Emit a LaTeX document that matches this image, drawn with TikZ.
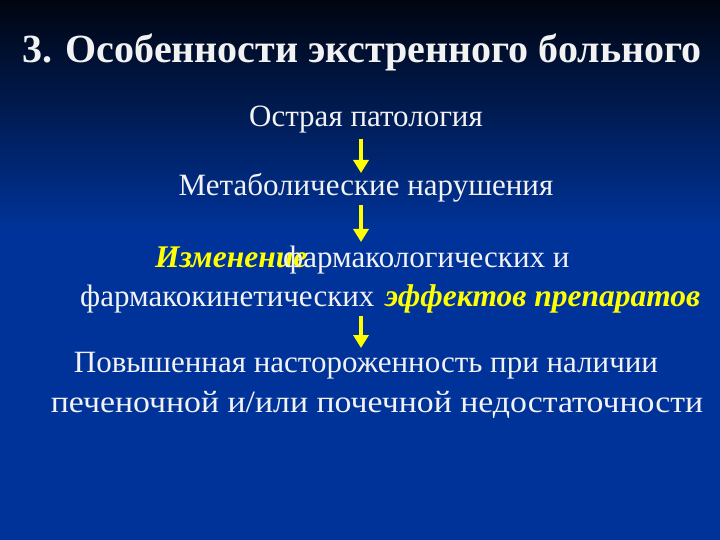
\documentclass[tikz,border=0pt]{standalone}
\usepackage{fontspec}
\setmainfont{Liberation Serif}
\usetikzlibrary{arrows.meta}
\definecolor{bgtop}{HTML}{000510}
\definecolor{bgbot}{HTML}{003399}
\definecolor{yel}{HTML}{FFFF00}
\definecolor{txt}{HTML}{F2F2F2}
\tikzset{
  title/.style={text=txt,font=\fontsize{40}{44}\selectfont\bfseries,inner sep=0pt},
  body/.style={text=txt,font=\fontsize{31}{35}\selectfont,inner sep=0pt},
  hl/.style={text=yel,font=\fontsize{31.5}{35}\selectfont\bfseries\itshape,inner sep=0pt},
  arr/.style={draw=yel,line width=4pt,-{Triangle[width=15pt,length=13pt]},fill=yel}
}
\begin{document}
\begin{tikzpicture}[x=1pt,y=-1pt]
\useasboundingbox (0,0) rectangle (720,540);
\shade[top color=bgtop,bottom color=bgbot] (0,0) rectangle (720,230);
\fill[bgbot] (0,229.5) rectangle (720,540);
\node[title] (t) at (362,52) {3. Особенности экстренного больного};
\node[body] (n1) at (366,120) {Острая патология};
\node[body] (n2) at (366,188) {Метаболические нарушения};
\node[hl,anchor=base west] (n3a) at (155,267) {Изменение};
\node[body,anchor=base west] (n3b) at (283,267) {фармакологических и};
\node[body,anchor=base west] (n3c) at (80,306) {фармакокинетических};
\node[hl,anchor=base west] (n3d) at (385,306) {эффектов препаратов};
\node[body] (n4) at (366,366) {Повышенная настороженность при наличии};
\node[body] (n5) at (377,405) {\scalebox{1.09}[1]{печеночной и/или почечной недостаточности}};
\coordinate (a1s) at (361,139); \coordinate (a1e) at (361,173);
\coordinate (a2s) at (361,205); \coordinate (a2e) at (361,242);
\coordinate (a3s) at (361,316); \coordinate (a3e) at (361,348);
\draw[arr] (a1s) -- (a1e);
\draw[arr] (a2s) -- (a2e);
\draw[arr] (a3s) -- (a3e);
\end{tikzpicture}
\end{document}
